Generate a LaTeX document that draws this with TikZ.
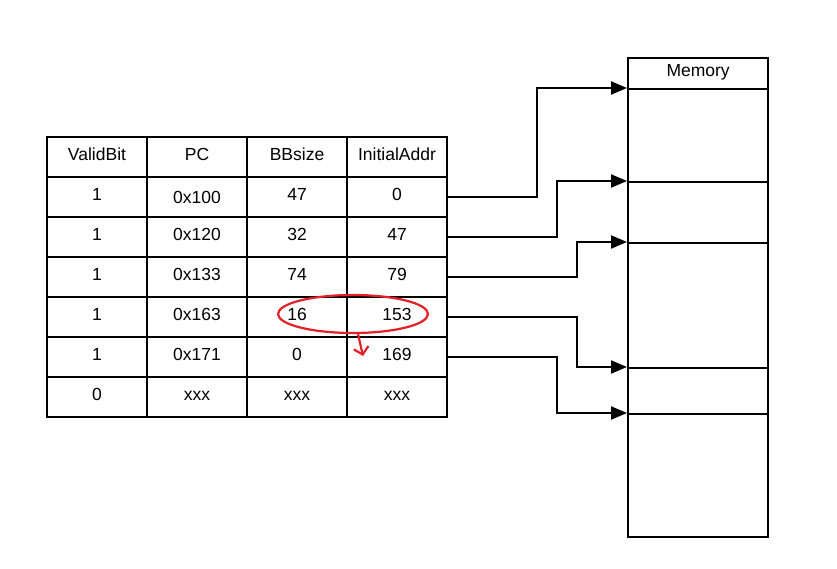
\documentclass[tikz,border=0pt]{standalone}
\usepackage{fontspec}
\setmainfont{Liberation Sans}
\usetikzlibrary{arrows.meta,shapes.geometric,calc}
\definecolor{redmark}{RGB}{228,32,40}
\begin{document}
\begin{tikzpicture}[x=1pt,y=-1pt,
  cell/.style={draw,line width=2.2pt,minimum width=100pt,minimum height=40pt,inner sep=0pt,
    font=\fontsize{17.5}{20}\selectfont,text height=12.5pt,text depth=6pt},
  lowtext/.style={text depth=0pt},
  plaintext/.style={},
  memseg/.style={draw,line width=2.2pt,minimum width=140pt,inner sep=0pt,anchor=north west},
  link/.style={line width=2.2pt,-{Triangle[length=16pt,width=13pt]}},
  redring/.style={draw=redmark,line width=2.2pt}]
\useasboundingbox (0,0) rectangle (837,569);
\fill[white] (0,0) rectangle (837,569);
% table
\foreach \r/\a/\b/\c/\d/\s in {0/ValidBit/PC/BBsize/InitialAddr/plaintext,
  1/1/0x100/47/0/lowtext, 2/1/0x120/32/47/plaintext, 3/1/0x133/74/79/plaintext,
  4/1/0x163/16/153/plaintext, 5/1/0x171/0/169/plaintext, 6/0/xxx/xxx/xxx/plaintext}{
  \node[cell] (c\r-1) at (97,157+40*\r) {\a};
  \node[cell,\s] (c\r-2) at (197,157+40*\r) {\b};
  \node[cell] (c\r-3) at (297,157+40*\r) {\c};
  \node[cell] (c\r-4) at (397,157+40*\r) {\d};
}
% memory
\node[memseg,minimum height=31pt,font=\fontsize{17.5}{20}\selectfont,text height=12.5pt,text depth=6pt] (mhead) at (627,57) {Memory};
\node[memseg,minimum height=93pt] (m0) at (627,88) {};
\node[memseg,minimum height=61pt] (m1) at (627,181) {};
\node[memseg,minimum height=125pt] (m2) at (627,242) {};
\node[memseg,minimum height=46pt] (m3) at (627,367) {};
\node[memseg,minimum height=123pt] (m4) at (627,413) {};
% connectors
\draw[link] (c1-4.east) -| (537,88) -- (m0.north west);
\draw[link] (c2-4.east) -| (557,181) -- (m1.north west);
\draw[link] (c3-4.east) -| (577,242) -- (m2.north west);
\draw[link] (c4-4.east) -| (577,367) -- (m3.north west);
\draw[link] (c5-4.east) -| (557,413) -- (m4.north west);
% red mark
\node[redring,ellipse,minimum width=150pt,minimum height=38pt,inner sep=0pt] (ell) at (353,314) {};
\coordinate (tipend) at (363,356);
\draw[draw=redmark,line width=2.2pt,-{Straight Barb[length=7pt,width=15pt]}] ([xshift=5pt]ell.south) -- (tipend);
\end{tikzpicture}
\end{document}
